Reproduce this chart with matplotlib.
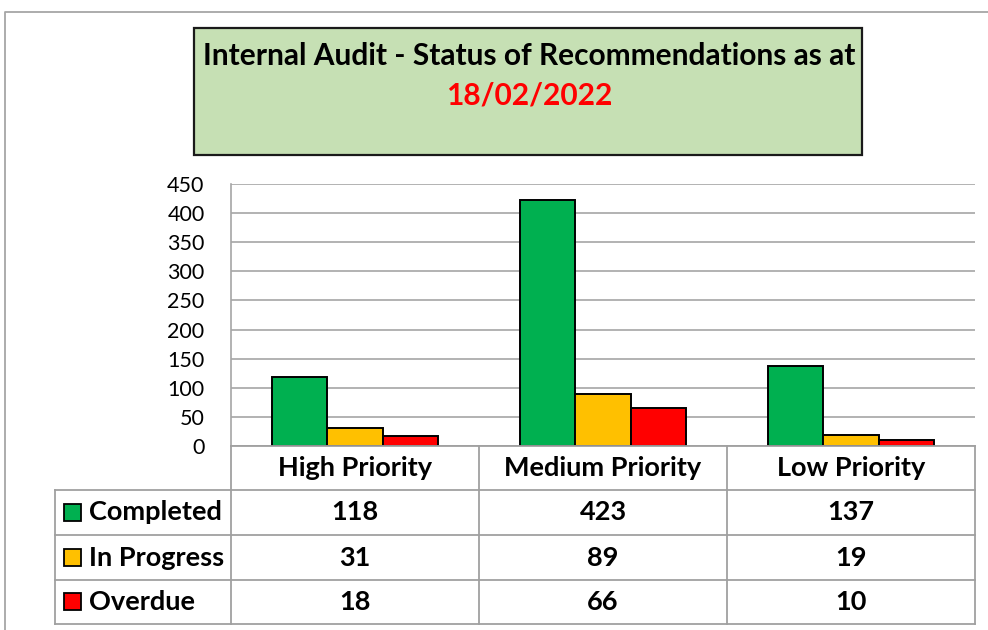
import matplotlib
matplotlib.use("Agg")
import matplotlib.pyplot as plt
from matplotlib.lines import Line2D
from matplotlib.patches import Rectangle
from matplotlib.transforms import Affine2D
import numpy as np

plt.rcParams['font.family'] = ['Lato', 'DejaVu Sans']

# ---- data ----
categories = ["High Priority", "Medium Priority", "Low Priority"]
series_names = ["Completed", "In Progress", "Overdue"]
completed = [118, 423, 137]
in_progress = [31, 89, 19]
overdue = [18, 66, 10]
series_values = [completed, in_progress, overdue]
series_colors = ["#00B050", "#FFC000", "#FF0000"]
yticks = [0, 50, 100, 150, 200, 250, 300, 350, 400, 450]
title_line1 = "Internal Audit - Status of Recommendations as at"
title_line2 = "18/02/2022"

W, H = 988, 630
fig = plt.figure(figsize=(W / 100, H / 100), dpi=100)
# pixel transform (origin top-left)
px = Affine2D().scale(1 / W, -1 / H).translate(0, 1) + fig.transFigure

GRID = "#A6A6A6"

# outer chart border (left and top visible)
fig.add_artist(Line2D([5, 5, 1000], [640, 12, 12], transform=px, color="#A6A6A6", lw=1.3))

# title box
fig.add_artist(Rectangle((194, 28), 668, 127, transform=px, facecolor="#C6E0B4",
                         edgecolor="#1a1a1a", lw=1.6))
fig.text(529 / W, 1 - 56 / H, title_line1, ha="center", va="center", fontsize=21.5,
         fontweight="bold", color="black")
fig.text(529 / W, 1 - 95 / H, title_line2, ha="center", va="center", fontsize=21.5,
         fontweight="bold", color="#FF0000")

# plot area
L, R, T, B = 231, 975, 184, 446
ax = fig.add_axes([L / W, 1 - B / H, (R - L) / W, (B - T) / H])
x = np.arange(len(categories))
bw = 0.224
for i, (vals, col) in enumerate(zip(series_values, series_colors)):
    ax.bar(x + (i - 1) * bw, vals, width=bw, color=col, edgecolor="black", lw=1.4, zorder=3)
ax.set_xlim(-0.5, len(categories) - 0.5)
ax.set_ylim(0, 450)
ax.set_yticks(yticks)
ax.set_yticklabels([str(v) for v in yticks], fontsize=15.5)
ax.tick_params(axis="y", length=0, pad=19)
ax.set_xticks([])
ax.yaxis.grid(True, color=GRID, lw=1.2, zorder=0)
for s in ["top", "right", "bottom"]:
    ax.spines[s].set_visible(False)
ax.spines["left"].set_color(GRID)
ax.spines["left"].set_linewidth(1.2)

# ---- data table ----
bounds = [ax.transData.transform((b, 0))[0] for b in np.arange(-0.5, len(categories), 1.0)]
bounds_px = [b * W / fig.get_size_inches()[0] / fig.dpi for b in bounds]
rows_y = [446, 490, 535, 580, 624]
label_left = 55

lc = "#A0A0A0"
lw = 1.3
for xb in bounds_px:
    fig.add_artist(Line2D([xb, xb], [446, 624], transform=px, color=lc, lw=lw))
fig.add_artist(Line2D([label_left, label_left], [490, 624], transform=px, color=lc, lw=lw))
fig.add_artist(Line2D([bounds_px[0], bounds_px[-1]], [446, 446], transform=px, color=lc, lw=lw))
for yy in rows_y[1:]:
    fig.add_artist(Line2D([label_left, bounds_px[-1]], [yy, yy], transform=px, color=lc, lw=lw))

fs_tab = 19.5
for j, cat in enumerate(categories):
    cx = (bounds_px[j] + bounds_px[j + 1]) / 2
    fig.text(cx / W, 1 - (rows_y[0] + rows_y[1]) / 2 / H, cat, ha="center", va="center",
             fontsize=fs_tab, fontweight="bold")
    for i, vals in enumerate(series_values):
        cy = (rows_y[i + 1] + rows_y[i + 2]) / 2
        fig.text(cx / W, 1 - cy / H, str(vals[j]), ha="center", va="center",
                 fontsize=fs_tab, fontweight="bold")

for i, (name, col) in enumerate(zip(series_names, series_colors)):
    cy = (rows_y[i + 1] + rows_y[i + 2]) / 2
    fig.add_artist(Rectangle((64, cy - 9), 17, 17, transform=px, facecolor=col,
                             edgecolor="black", lw=1.3))
    fig.text(89 / W, 1 - cy / H, name, ha="left", va="center", fontsize=fs_tab,
             fontweight="bold")

fig.savefig("out.png", dpi=100, facecolor="white")
